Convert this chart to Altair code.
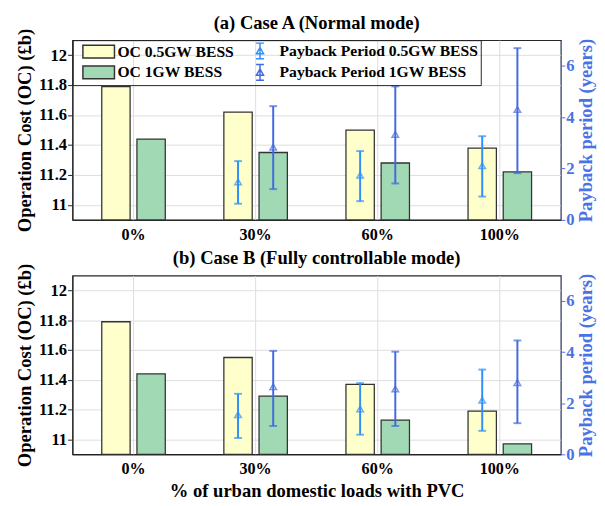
import altair as alt
import pandas as pd

# ---------------- data ----------------
cats = ["0%", "30%", "60%", "100%"]
pp_cats = ["30%", "60%", "100%"]
bess = ["0.5GW", "1GW"]
oc_names = ["OC 0.5GW BESS", "OC 1GW BESS"]
pp_names = ["Payback Period 0.5GW BESS", "Payback Period 1GW BESS"]

# Case A (Normal mode)
a_oc_05 = [11.79, 11.62, 11.50, 11.38]
a_oc_1 = [11.44, 11.35, 11.28, 11.22]
a_pp_05 = [1.48, 1.74, 2.11]
a_pp_05_lo = [0.63, 0.73, 0.91]
a_pp_05_hi = [2.29, 2.68, 3.26]
a_pp_1 = [2.83, 3.33, 4.30]
a_pp_1_lo = [1.20, 1.42, 1.82]
a_pp_1_hi = [4.43, 5.20, 6.69]

# Case B (Fully controllable mode)
b_oc_05 = [11.79, 11.55, 11.37, 11.19]
b_oc_1 = [11.44, 11.29, 11.13, 10.97]
b_pp_05 = [1.55, 1.78, 2.12]
b_pp_05_lo = [0.64, 0.77, 0.92]
b_pp_05_hi = [2.37, 2.79, 3.32]
b_pp_1 = [2.65, 2.56, 2.81]
b_pp_1_lo = [1.11, 1.11, 1.22]
b_pp_1_hi = [4.05, 4.02, 4.46]

oc_domain = [10.9, 12.1]
oc_ticks = [11, 11.2, 11.4, 11.6, 11.8, 12]
pp_domain = [0, 7]
pp_ticks = [0, 2, 4, 6]

# ---------------- styles ----------------
FONT = "Liberation Serif"
BLUE_AXIS = "#4A72E6"
C_PP05 = "#2E8EFA"
C_PP1 = "#4169E1"
C_OC05 = "#FFFFCC"
C_OC1 = "#A1D9B5"
EDGE = "#333333"

legend_order = [oc_names[0], pp_names[0], oc_names[1], pp_names[1]]
fill_range = [C_OC05, "transparent", C_OC1, "transparent"]
color_range = [EDGE, C_PP05, EDGE, C_PP1]

RECT_PATH = "M-0.04,-0.81H4V0.81H-0.04Z"
EB_PATH = ("M1.875,-1V1M1.375,-1H2.375M1.375,1H2.375"
           "M1.425,0.35L1.875,-0.45L2.325,0.35Z")
shape_range = [RECT_PATH, EB_PATH, RECT_PATH, EB_PATH]


def make_legend():
    return alt.Legend(title=None, orient="none", legendX=0, legendY=0, columns=2,
                      direction="horizontal",
                      strokeColor="#262626", padding=2, rowPadding=0, columnPadding=2,
                      symbolSize=256, labelOffset=26, labelFontSize=16, labelLimit=400,
                      symbolStrokeWidth=1.5,
                      labelFont=FONT, labelFontWeight="bold", labelColor="black")


def right_axis():
    return alt.Axis(orient="right", values=pp_ticks, title="Payback period (years)",
                    grid=False, labelColor=BLUE_AXIS, titleColor=BLUE_AXIS,
                    domainColor=BLUE_AXIS, tickColor=BLUE_AXIS, tickSize=4,
                    labelPadding=1, titleAngle=270, titlePadding=3,
                    titleBaseline="top")


def panel(title, oc05, oc1, pp05, lo05, hi05, pp1, lo1, hi1, show_legend, xtitle, height):
    bars = pd.DataFrame({
        "cat": cats * 2,
        "bess": [bess[0]] * 4 + [bess[1]] * 4,
        "series": [oc_names[0]] * 4 + [oc_names[1]] * 4,
        "oc": oc05 + oc1,
    })
    errs = pd.DataFrame({
        "cat": pp_cats * 2,
        "bess": [bess[0]] * 3 + [bess[1]] * 3,
        "series": [pp_names[0]] * 3 + [pp_names[1]] * 3,
        "pp": pp05 + pp1,
        "lo": lo05 + lo1,
        "hi": hi05 + hi1,
    })

    xaxis = alt.Axis(title=xtitle if xtitle else None, labelAngle=0, ticks=False,
                     labelPadding=7, grid=True, gridColor="#DDDDDD", labelFontSize=16.5,
                     domainColor="#222222", titlePadding=5, titleFontSize=19)
    x = alt.X("cat:N", sort=cats,
              scale=alt.Scale(domain=cats, paddingInner=0, paddingOuter=0),
              axis=xaxis)
    xo = alt.XOffset("bess:N", scale=alt.Scale(domain=bess, paddingInner=0.194, paddingOuter=0.833))

    leg = make_legend if show_legend else (lambda: None)

    bar = alt.Chart(bars).mark_bar(stroke=EDGE, strokeWidth=1.3, clip=True).encode(
        x=x, xOffset=xo,
        y=alt.Y("oc:Q", scale=alt.Scale(domain=oc_domain, zero=False, nice=False),
                axis=alt.Axis(values=oc_ticks, format="~g", title="Operation Cost (OC) (£b)",
                              grid=True, gridColor="#DDDDDD", tickSize=5, labelPadding=1,
                              domainColor="#222222", tickColor="#222222", titlePadding=4)),
        y2=alt.datum(oc_domain[0]),
        fill=alt.Fill("series:N", scale=alt.Scale(domain=legend_order, range=fill_range),
                      legend=leg()),
    )

    ppscale = alt.Scale(domain=pp_domain, nice=False, zero=True)
    color = alt.Color("series:N", scale=alt.Scale(domain=legend_order, range=color_range),
                      legend=leg())
    base = alt.Chart(errs).encode(x=x, xOffset=xo, color=color)
    rule = base.mark_rule(strokeWidth=2).encode(
        y=alt.Y("lo:Q", scale=ppscale, axis=right_axis()),
        y2="hi:Q",
    )
    cap_lo = base.mark_tick(size=8, thickness=2).encode(
        y=alt.Y("lo:Q", scale=ppscale, axis=right_axis()))
    cap_hi = base.mark_tick(size=8, thickness=2).encode(
        y=alt.Y("hi:Q", scale=ppscale, axis=right_axis()))
    pts = base.mark_point(shape="triangle-up", filled=False, size=45, strokeWidth=1.5).encode(
        y=alt.Y("pp:Q", scale=ppscale, axis=right_axis()))
    # invisible layer that only carries the legend glyph shapes
    glyph = base.mark_point(filled=False, strokeOpacity=0, fillOpacity=0, size=256).encode(
        y=alt.Y("pp:Q", scale=ppscale, axis=right_axis()),
        shape=alt.Shape("series:N", scale=alt.Scale(domain=legend_order, range=shape_range),
                        legend=leg()))

    return alt.layer(bar, alt.layer(rule, cap_lo, cap_hi, pts, glyph)).resolve_scale(
        y="independent").properties(
        width=500, height=height,
        title=alt.TitleParams(title, fontSize=19, font=FONT, fontWeight="bold",
                              anchor="middle", offset=-5, color="black"))


top = panel("(a) Case A (Normal mode)", a_oc_05, a_oc_1, a_pp_05, a_pp_05_lo, a_pp_05_hi,
            a_pp_1, a_pp_1_lo, a_pp_1_hi, True, None, 184)
bot = panel("(b) Case B (Fully controllable mode)", b_oc_05, b_oc_1, b_pp_05, b_pp_05_lo, b_pp_05_hi,
            b_pp_1, b_pp_1_lo, b_pp_1_hi, False, "% of urban domestic loads with PVC", 183)

chart = alt.vconcat(top, bot, spacing=4).resolve_scale(
    fill="independent", color="independent", shape="independent").resolve_legend(
    fill="independent", color="independent", shape="independent").properties(
    padding={"left": 7, "top": 0, "right": 0, "bottom": 0}, background="white"
).configure_view(stroke="#262626", strokeWidth=1.2).configure_axis(
    labelFont=FONT, labelFontWeight="bold", labelFontSize=17, labelColor="black",
    titleFont=FONT, titleFontWeight="bold", titleFontSize=19, titleColor="black",
)

chart.save("out.html", embed_options={"renderer": "svg", "actions": False})
